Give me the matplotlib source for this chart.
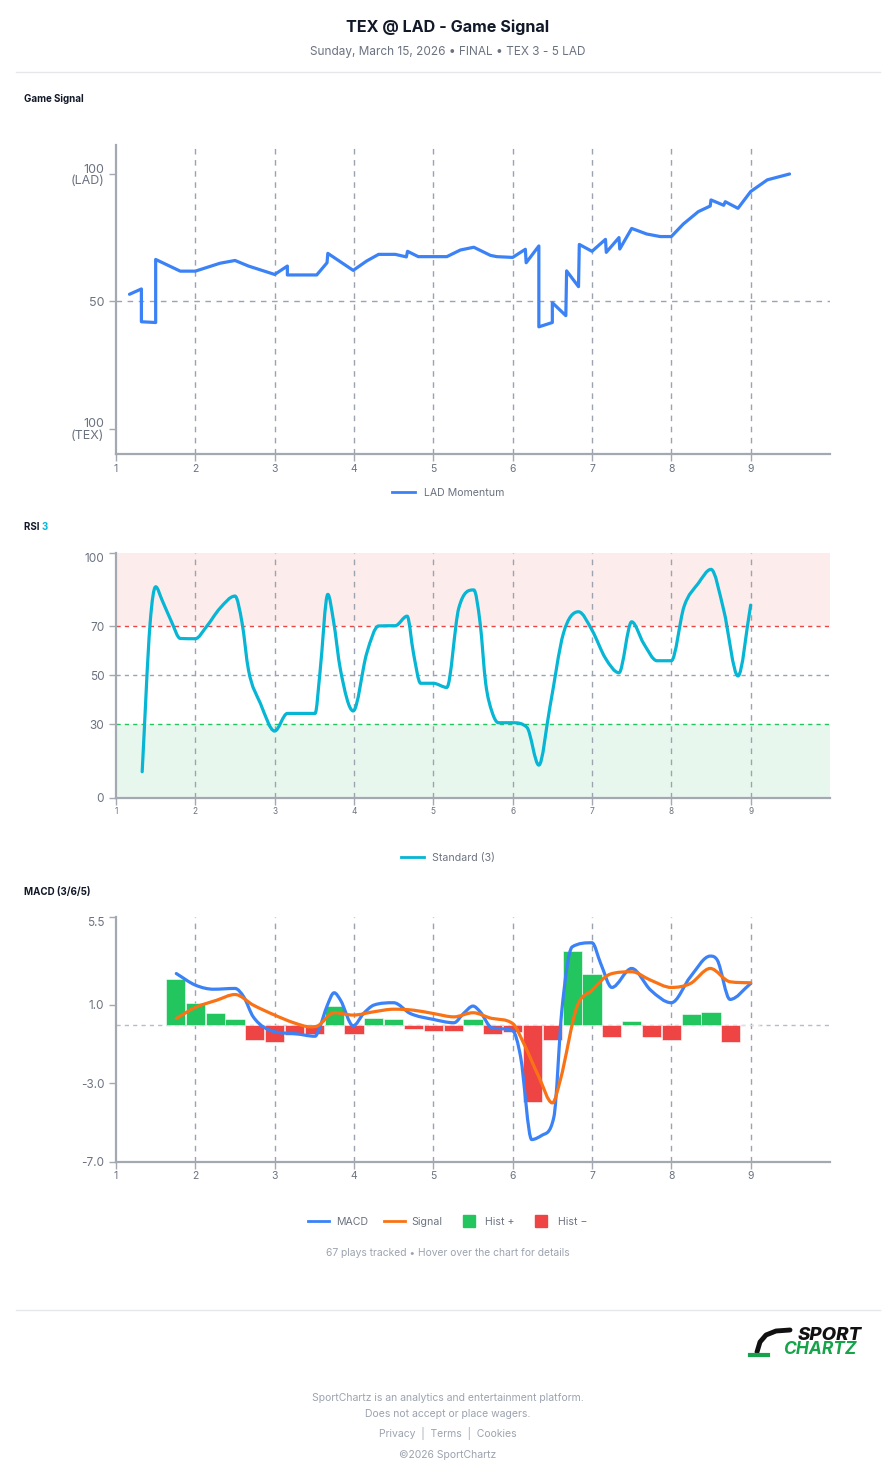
import numpy as np
import matplotlib
matplotlib.use("Agg")
import matplotlib.pyplot as plt
from matplotlib.path import Path
from matplotlib.patches import PathPatch
from matplotlib.lines import Line2D

plt.rcParams['font.family'] = ['Inter', 'DejaVu Sans']

# ---------------- data ----------------
# Game signal: 50 = even, 100 = LAD, 0 = TEX (100 TEX)
gs_x = [1.17, 1.32, 1.32, 1.50, 1.50, 1.81, 2.0, 2.31, 2.50, 2.67, 3.0, 3.16, 3.16,
        3.53, 3.66, 3.67, 3.99, 4.16, 4.31, 4.52, 4.66, 4.675, 4.81, 5.17, 5.34, 5.51,
        5.72, 5.80, 6.0, 6.16, 6.17, 6.33, 6.33, 6.50, 6.50, 6.67, 6.68, 6.83, 6.84,
        7.0, 7.17, 7.18, 7.34, 7.35, 7.50, 7.69, 7.86, 8.0, 8.15, 8.34, 8.49, 8.50,
        8.66, 8.68, 8.84, 9.0, 9.21, 9.49]
gs_y = [52.8, 54.9, 42.0, 41.7, 66.5, 61.9, 61.9, 65.0, 66.1, 63.9, 60.6, 63.9, 60.4,
        60.4, 65.2, 68.9, 62.2, 65.9, 68.5, 68.5, 67.5, 69.7, 67.6, 67.6, 70.2, 71.3,
        68.1, 67.6, 67.3, 70.5, 65.2, 71.8, 40.0, 41.7, 49.5, 44.4, 62.0, 55.8, 72.4,
        69.7, 74.4, 69.3, 75.1, 70.6, 78.7, 76.5, 75.5, 75.5, 80.4, 85.3, 87.5, 89.9,
        87.8, 89.2, 86.6, 93.2, 97.8, 100.1]

rsi_x = [1.33, 1.43, 1.50, 1.58, 1.70, 1.81, 2.0, 2.14, 2.31, 2.50, 2.59, 2.67, 2.82,
         3.0, 3.16, 3.51, 3.57, 3.67, 3.74, 3.83, 3.99, 4.16, 4.31, 4.52, 4.67, 4.75,
         4.84, 5.0, 5.17, 5.32, 5.51, 5.59, 5.66, 5.74, 5.82, 6.0, 6.18, 6.33, 6.47,
         6.64, 6.83, 7.0, 7.17, 7.34, 7.50, 7.65, 7.82, 8.0, 8.16, 8.34, 8.50, 8.66,
         8.84, 9.0]
rsi_y = [10.6, 71.2, 86.1, 80.7, 71.8, 65.0, 64.9, 69.8, 77.3, 82.3, 71.2, 52.1, 38.5,
         27.2, 34.4, 34.4, 50.7, 83.0, 72.5, 52.1, 35.4, 58.9, 70.1, 70.2, 74.1, 58.9,
         46.7, 46.7, 45.0, 77.3, 84.8, 71.2, 46.7, 35.0, 30.6, 30.6, 28.7, 13.3, 37.1,
         67.1, 75.9, 68.4, 56.9, 51.0, 71.8, 63.0, 55.9, 55.9, 78.0, 87.5, 93.2, 76.6,
         49.7, 78.6]

macd_x = [1.76, 2.0, 2.23, 2.50, 2.61, 2.73, 3.0, 3.24, 3.51, 3.57, 3.66, 3.75, 3.83,
          3.99, 4.12, 4.25, 4.50, 4.71, 5.0, 5.26, 5.38, 5.50, 5.59, 5.74, 6.0, 6.10,
          6.24, 6.37, 6.52, 6.62, 6.75, 7.0, 7.11, 7.25, 7.50, 7.74, 8.0, 8.24, 8.49,
          8.58, 8.74, 9.0]
macd_y = [2.60, 2.01, 1.80, 1.84, 1.41, 0.39, -0.37, -0.46, -0.60, -0.12, 0.94, 1.62,
          1.24, -0.07, 0.56, 0.99, 1.11, 0.56, 0.26, 0.09, 0.56, 0.94, 0.65, -0.17,
          -0.32, -1.65, -5.87, -5.65, -4.71, 0.73, 3.96, 4.17, 3.11, 1.89, 2.86, 1.75,
          1.11, 2.43, 3.49, 3.28, 1.28, 2.09]

sig_x = [1.76, 2.0, 2.27, 2.50, 2.73, 3.0, 3.24, 3.45, 3.53, 3.75, 3.99, 4.25, 4.50,
         4.75, 5.0, 5.26, 5.50, 5.74, 6.0, 6.14, 6.33, 6.50, 6.60, 6.81, 7.0, 7.23,
         7.50, 7.74, 8.0, 8.24, 8.49, 8.74, 9.0]
sig_y = [0.31, 0.87, 1.24, 1.53, 0.99, 0.48, 0.09, -0.12, -0.09, 0.60, 0.48, 0.65,
         0.78, 0.73, 0.56, 0.39, 0.60, 0.31, 0.05, -0.97, -2.67, -4.00, -2.84, 0.90,
         1.75, 2.57, 2.69, 2.26, 1.89, 2.09, 2.86, 2.18, 2.13]

hist_x = [1.75, 2.0, 2.25, 2.5, 2.75, 3.0, 3.25, 3.5, 3.75, 4.0, 4.25, 4.5, 4.75, 5.0,
          5.25, 5.5, 5.75, 6.0, 6.25, 6.5, 6.75, 7.0, 7.25, 7.5, 7.75, 8.0, 8.25, 8.5,
          8.75, 9.0]
hist_y = [2.30, 1.12, 0.60, 0.27, -0.77, -0.90, -0.56, -0.48, 0.95, -0.51, 0.34, 0.27,
          -0.24, -0.34, -0.31, 0.29, -0.48, -0.38, -3.96, -0.80, 3.74, 2.60, -0.65, 0.17,
          -0.63, -0.77, 0.54, 0.63, -0.88, -0.02]

innings = [1, 2, 3, 4, 5, 6, 7, 8, 9]

# ---------------- style ----------------
BLUE = '#3b82f6'
ORANGE = '#f97316'
CYAN = '#06b6d4'
GREEN = '#22c55e'
RED = '#ef4444'
AXIS = '#a3a8b1'
GRID = '#9ca3af'
TICK = '#6b7280'
DARK = '#111827'
MUTED = '#9ca3af'


def smooth_path(xs, ys):
    # monotone cubic through the points, as bezier segments
    x = np.asarray(xs, float)
    y = np.asarray(ys, float)
    dx = np.diff(x)
    d = np.diff(y) / dx
    m = np.zeros_like(y)
    m[0], m[-1] = d[0], d[-1]
    for i in range(1, len(y) - 1):
        m[i] = 0 if d[i - 1] * d[i] <= 0 else (d[i - 1] + d[i]) / 2
    for i in range(len(d)):
        if d[i] == 0:
            m[i] = m[i + 1] = 0
            continue
        a, b = m[i] / d[i], m[i + 1] / d[i]
        s = a * a + b * b
        if s > 9:
            t = 3 / np.sqrt(s)
            m[i], m[i + 1] = t * a * d[i], t * b * d[i]
    verts = [(x[0], y[0])]
    codes = [Path.MOVETO]
    for i in range(len(d)):
        h = dx[i] / 3
        verts += [(x[i] + h, y[i] + m[i] * h), (x[i + 1] - h, y[i + 1] - m[i + 1] * h),
                  (x[i + 1], y[i + 1])]
        codes += [Path.CURVE4] * 3
    return Path(verts, codes)


def style_axes(ax, xlabsize=7.5):
    for s in ['top', 'right']:
        ax.spines[s].set_visible(False)
    for s in ['left', 'bottom']:
        ax.spines[s].set_color(AXIS)
        ax.spines[s].set_linewidth(1.6)
    ax.set_xlim(1, 10)
    ax.set_xticks(innings)
    ax.tick_params(axis='both', colors=AXIS, length=5, width=1, labelcolor=TICK)
    ax.tick_params(axis='x', labelsize=xlabsize, pad=2)
    for xv in innings[1:]:
        ax.axvline(xv, color=GRID, lw=1, dashes=(4, 4), zorder=1)


W, H = 896, 1480
fig = plt.figure(figsize=(W / 100, H / 100), dpi=100)


def fy(py):
    return 1 - py / H


def ax_rect(top, bottom, left=116, right=830):
    return [left / W, 1 - bottom / H, (right - left) / W, (bottom - top) / H]


# ---------------- header ----------------
fig.text(0.5, fy(27), 'TEX @ LAD - Game Signal', ha='center', va='center',
         fontsize=11.6, fontweight='bold', color=DARK)
fig.text(0.5, fy(52), 'Sunday, March 15, 2026 \u2022 FINAL \u2022 TEX 3 - 5 LAD', ha='center',
         va='center', fontsize=8.5, color=TICK)
fig.add_artist(Line2D([16 / W, 880 / W], [fy(72), fy(72)], color='#e5e7eb', lw=1))

# ---------------- game signal ----------------
fig.text(24 / W, fy(99), 'Game Signal', ha='left', va='center', fontsize=7,
         fontweight='bold', color=DARK)
ax1 = fig.add_axes(ax_rect(145, 454))
style_axes(ax1)
ax1.set_ylim(-10, 111.5)
ax1.set_yticks([0, 50, 100])
ax1.set_yticklabels(['100\n(TEX)', '50', '100\n(LAD)'], fontsize=9, linespacing=0.95,
                    multialignment='right')
ax1.axhline(50, color=GRID, lw=1, dashes=(4, 4), zorder=1)
ax1.plot(gs_x, gs_y, color=BLUE, lw=2.3, solid_joinstyle='round',
         solid_capstyle='round', zorder=3)
fig.legend(handles=[Line2D([], [], color=BLUE, lw=2)], labels=['LAD Momentum'],
           loc='center', bbox_to_anchor=(0.5, fy(493)), frameon=False, fontsize=7.6,
           handlelength=2.2, labelcolor=TICK)

# ---------------- RSI ----------------
t = fig.text(24 / W, fy(527), 'RSI ', ha='left', va='center', fontsize=7,
             fontweight='bold', color=DARK)
fig.canvas.draw()
bb = t.get_window_extent()
fig.text(bb.x1 / W, fy(527), '3', ha='left', va='center', fontsize=7,
         fontweight='bold', color=CYAN)

ax2 = fig.add_axes(ax_rect(552.7, 797.7))
style_axes(ax2, xlabsize=6)
ax2.set_ylim(0, 100)
ax2.set_yticks([0, 30, 50, 70, 100])
ax2.tick_params(axis='y', labelsize=8.5)
ax2.axhspan(70, 100, color='#fdecec', zorder=0, lw=0)
ax2.axhspan(0, 30, color='#e8f7ee', zorder=0, lw=0)
ax2.axhline(70, color=RED, lw=1, dashes=(3, 3), zorder=2)
ax2.axhline(50, color=GRID, lw=1, dashes=(3, 3), zorder=2)
ax2.axhline(30, color=GREEN, lw=1, dashes=(3, 3), zorder=2)
ax2.add_patch(PathPatch(smooth_path(rsi_x, rsi_y), fill=False, edgecolor=CYAN, lw=2.3,
                        capstyle='round', joinstyle='round', zorder=3))
ax2.get_yticklabels()[-1].set_va('top')
fig.legend(handles=[Line2D([], [], color=CYAN, lw=2)], labels=['Standard (3)'],
           loc='center', bbox_to_anchor=(0.5, fy(858)), frameon=False, fontsize=7.6,
           handlelength=2.2, labelcolor=TICK)

# ---------------- MACD ----------------
fig.text(24 / W, fy(892), 'MACD (3/6/5)', ha='left', va='center', fontsize=7,
         fontweight='bold', color=DARK)
ax3 = fig.add_axes(ax_rect(916.7, 1161.7))
style_axes(ax3)
ax3.set_ylim(-7, 5.5)
ax3.set_yticks([-7, -3, 1, 5.5])
ax3.set_yticklabels(['-7.0', '-3.0', '1.0', '5.5'], fontsize=8.5)
ax3.get_yticklabels()[-1].set_va('top')
ax3.axhline(0, color='#b8bcc4', lw=1, dashes=(3, 3), zorder=1)
hist_colors = [GREEN if v >= 0 else RED for v in hist_y]
ax3.bar(hist_x, hist_y, width=0.24, color=hist_colors, edgecolor='#ffffff', lw=0.4,
        zorder=2)
ax3.add_patch(PathPatch(smooth_path(macd_x, macd_y), fill=False, edgecolor=BLUE, lw=2.3,
                        capstyle='round', joinstyle='round', zorder=4))
ax3.add_patch(PathPatch(smooth_path(sig_x, sig_y), fill=False, edgecolor=ORANGE, lw=2.3,
                        capstyle='round', joinstyle='round', zorder=4))
fig.legend(handles=[Line2D([], [], color=BLUE, lw=2), Line2D([], [], color=ORANGE, lw=2),
                    Line2D([], [], ls='', marker='s', ms=9, color=GREEN),
                    Line2D([], [], ls='', marker='s', ms=9, color=RED)],
           labels=['MACD', 'Signal', 'Hist +', 'Hist \u2212'],
           loc='center', bbox_to_anchor=(0.5, fy(1222)), frameon=False, fontsize=7.6,
           ncol=4, handlelength=2.0, columnspacing=1.5, handletextpad=0.6,
           labelcolor=TICK)
fig.text(0.5, fy(1253), '67 plays tracked \u2022 Hover over the chart for details',
         ha='center', va='center', fontsize=7.4, color=MUTED)

# ---------------- footer ----------------
fig.add_artist(Line2D([16 / W, 880 / W], [fy(1310), fy(1310)], color='#e5e7eb', lw=1))
fig.text(862 / W, fy(1335), 'SPORT', ha='right', va='center', fontsize=13.5,
         fontweight='heavy', fontstyle='italic', color='#111111')
fig.text(856 / W, fy(1350), 'CHARTZ', ha='right', va='center', fontsize=12.5,
         fontweight='bold', fontstyle='italic', color='#16a34a')
fig.add_artist(Line2D([757 / W, 760 / W, 766 / W, 776 / W, 790 / W],
                      [fy(1352), fy(1342), fy(1335), fy(1331), fy(1330)], color='#111111',
                      lw=3.5, solid_capstyle='round'))
fig.add_artist(Line2D([750 / W, 768 / W], [fy(1355), fy(1355)], color='#16a34a', lw=3))

foot = ['SportChartz is an analytics and entertainment platform.',
        'Does not accept or place wagers.',
        'Privacy  |  Terms  |  Cookies',
        '\u00a92026 SportChartz']
for txt, py in zip(foot, [1398, 1414, 1434, 1455]):
    fig.text(0.5, fy(py), txt, ha='center', va='center', fontsize=7.5, color=MUTED)

fig.savefig('out.png', dpi=100, facecolor='white')
